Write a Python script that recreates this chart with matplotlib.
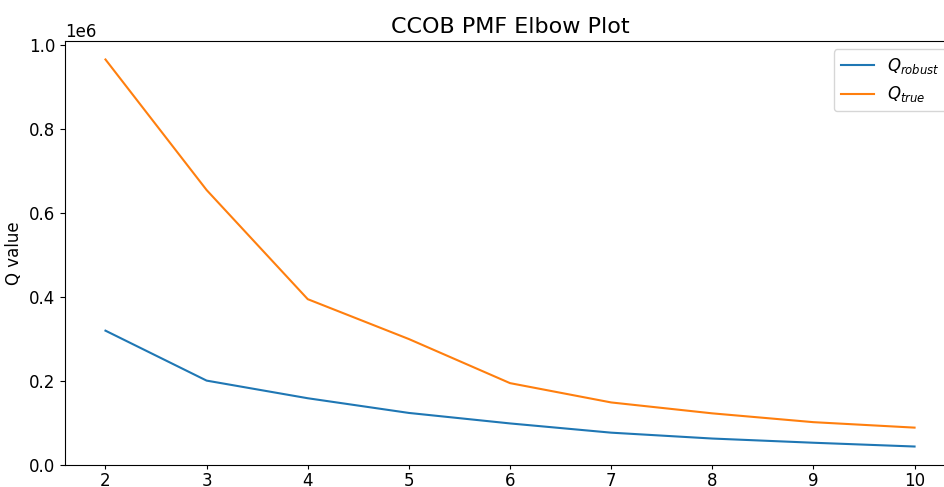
import numpy as np
import matplotlib
matplotlib.use("Agg")
import matplotlib.pyplot as plt

# number of PMF factors vs Q value
n_factors = [2, 3, 4, 5, 6, 7, 8, 9, 10]
q_robust = [0.320e6, 0.201e6, 0.159e6, 0.124e6, 0.099e6, 0.077e6, 0.063e6, 0.053e6, 0.044e6]
q_true = [0.966e6, 0.655e6, 0.395e6, 0.300e6, 0.195e6, 0.149e6, 0.123e6, 0.102e6, 0.089e6]

fig = plt.figure(figsize=(9.45, 4.87), dpi=100)
ax = fig.add_axes([0.0688, 0.0452, 0.9418, 0.8706])

ax.plot(n_factors, q_robust, label=r"$Q_{robust}$")
ax.plot(n_factors, q_true, label=r"$Q_{true}$")

ax.set_ylim(0, 1.01e6)
ax.set_title("CCOB PMF Elbow Plot", fontsize=16)
ax.set_ylabel("Q value", fontsize=12)
ax.tick_params(labelsize=12)
ax.tick_params(axis="x", length=3, pad=2)
ax.yaxis.get_offset_text().set_fontsize(12)
ax.legend(loc="upper right", fontsize=12)

fig.savefig("out.png", dpi=100)
